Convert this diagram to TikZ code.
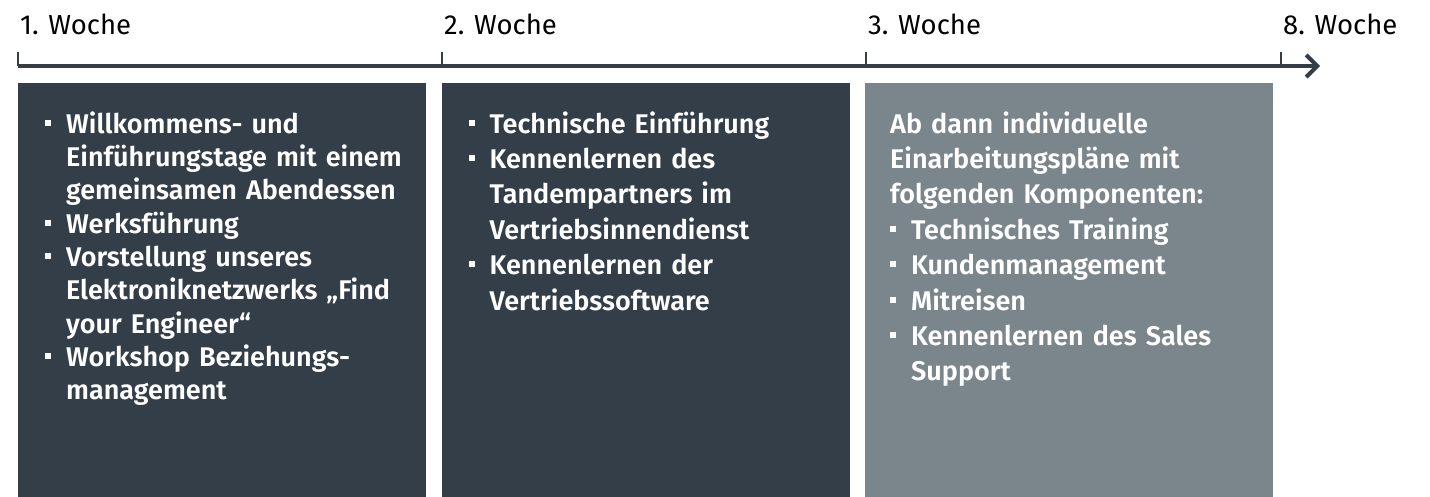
\documentclass[tikz,border=0pt]{standalone}
\usepackage{fontspec}
\setmainfont{Fira Sans}
\IfFontExistsTF{Fira Sans SemiBold}{\newfontfamily\boxfont{Fira Sans SemiBold}}{\newcommand\boxfont{\bfseries}}
\IfFontExistsTF{Fira Sans Book}{\newfontfamily\weekfont{Fira Sans Book}}{\newcommand\weekfont{\mdseries}}
\usetikzlibrary{positioning,arrows.meta}
\definecolor{slate}{HTML}{333E48}
\definecolor{steel}{HTML}{7B858C}
% bullet item with hanging indent
\newcommand\pkt[1]{\hangindent=21pt\hangafter=1\noindent\makebox[21pt][l]{\raisebox{7.5pt}{\rule{6pt}{6pt}}}\strut#1\par}

\begin{document}
\begin{tikzpicture}[x=1pt, y=-1pt,
    box/.style={anchor=north west, inner sep=0pt, minimum width=408pt, minimum height=414pt},
    boxtext/.style={anchor=north west, inner sep=0pt, text width=385pt, align=left, text=white},
    week/.style={anchor=base west, inner sep=0pt, font=\weekfont\fontsize{27.5}{30}\selectfont},
    tick/.style={draw=slate, line width=1.6pt},
    axis/.style={draw=slate, line width=4pt, -{Straight Barb[length=11pt, width=22pt]}}]
        \useasboundingbox (0,0) rectangle (1430,497);
        \def\d{423.5}
        % Time axis
        \coordinate (A0) at (18,66);
        \coordinate (AE) at (1320,66);
        \draw[axis] (A0) -- (AE);
        % Ticks and week labels
        \foreach \x/\n in {18/1, 442/2, 866/3, 1281/8} {
            \coordinate (T\n) at (\x,66);
            \draw[tick] (T\n) -- ++(0,-14);
            \node[week] (W\n) at (\x+2,35) {\n. Woche};
        }
        % Boxes
        \node[box, fill=slate] (B1) at (18,83) {};
        \node[box, fill=slate] (B2) at (18+\d,83) {};
        \node[box, fill=steel] (B3) at (18+2*\d,83) {};
        % Box texts
        \node[boxtext, font=\boxfont\fontsize{27}{33.3}\selectfont, below right=26.7pt and 27pt of B1.north west] (L1) {%
            \pkt{Willkommens- und\newline Einführungstage mit einem\newline gemeinsamen Abendessen}%
            \pkt{Werksführung}%
            \pkt{Vorstellung unseres\newline Elektroniknetzwerks „Find\newline your Engineer“}%
            \pkt{Workshop Beziehungs-\newline management}};
        \node[boxtext, font=\boxfont\fontsize{27}{35.4}\selectfont, below right=25.2pt and 27pt of B2.north west] (L2) {%
            \pkt{Technische Einführung}%
            \pkt{Kennenlernen des\newline Tandempartners im\newline Vertriebsinnendienst}%
            \pkt{Kennenlernen der\newline Vertriebssoftware}};
        \node[boxtext, font=\boxfont\fontsize{27}{35.4}\selectfont, below right=25.2pt and 25pt of B3.north west] (L3) {%
            \strut Ab dann individuelle\newline Einarbeitungspläne mit\newline folgenden Komponenten:\par
            \pkt{Technisches Training}%
            \pkt{Kundenmanagement}%
            \pkt{Mitreisen}%
            \pkt{Kennenlernen des Sales\newline Support}};
\end{tikzpicture}
\end{document}
